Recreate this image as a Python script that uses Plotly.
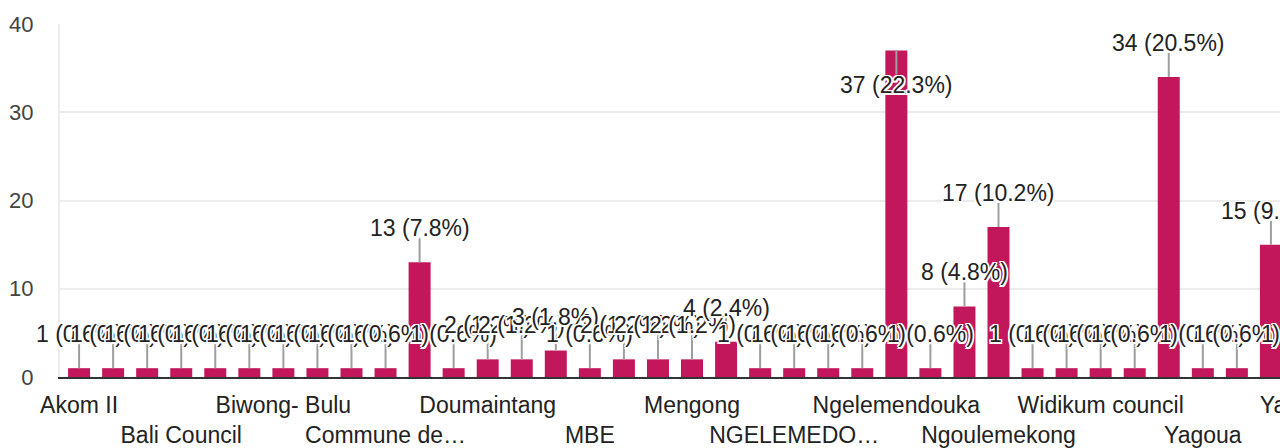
import plotly.graph_objects as go

# ---- data ----
labels = [
    "Akom II", "", "", "Bali Council", "", "", "Biwong- Bulu", "", "", "Commune de…",
    "", "", "Doumaintang", "", "", "MBE", "", "", "Mengong", "",
    "", "NGELEMEDO…", "", "", "Ngelemendouka", "", "", "Ngoulemekong", "", "",
    "Widikum council", "", "", "Yagoua", "", "", "Yaoundé",
]
counts = [
    1, 1, 1, 1, 1, 1, 1, 1, 1, 1,
    13, 1, 2, 2, 3, 1, 2, 2, 2, 4,
    1, 1, 1, 1, 37, 1, 8, 17, 1, 1,
    1, 1, 34, 1, 1, 15, 1,
]
total_responses = 166
y_ticks = [0, 10, 20, 30, 40]

# ---- style ----
BAR = "#C2185B"
FONT = "Arial, Liberation Sans, sans-serif"
FS = 23
W, H = 1342, 448
ML, MR, MT, MB = 60, 20, 24, 71
Y_MAX = 40
LABEL_SHIFT = 34
LEADER = 24

plot_h = H - MT - MB
ppu = plot_h / Y_MAX

idx = list(range(len(counts)))
fig = go.Figure(go.Bar(x=idx, y=counts, marker_color=BAR, marker_line_width=0))

halo = ", ".join(f"{dx}px {dy}px 0 #fff" for dx in (-1.5, 0, 1.5) for dy in (-1.5, 0, 1.5) if (dx, dy) != (0, 0))

shapes, annos = [], []
for i, v in enumerate(counts):
    flip = v * ppu + LABEL_SHIFT + 12 > plot_h
    sgn = -1 if flip else 1
    shapes.append(dict(type="line", xref="x", yref="y", x0=i, x1=i,
                       ysizemode="pixel", yanchor=v, y0=0, y1=sgn * LEADER,
                       line=dict(color="#9e9e9e", width=2), layer="above"))
    annos.append(dict(x=i, y=v, xref="x", yref="y", showarrow=False,
                      yshift=sgn * (LABEL_SHIFT + (1 if flip else 0)),
                      text=f"{v} ({v / total_responses * 100:.1f}%)",
                      xanchor="center", yanchor="middle",
                      font=dict(family=FONT, size=FS, color="#222", shadow=halo)))

shown = [i for i, l in enumerate(labels) if l]
ticktext = [("<br>" if k % 2 else "") + labels[i] for k, i in enumerate(shown)]

fig.update_layout(
    width=W, height=H, margin=dict(l=ML, r=MR, t=MT, b=MB, pad=0, autoexpand=False),
    paper_bgcolor="white", plot_bgcolor="white",
    bargap=0.354, showlegend=False,
    shapes=shapes, annotations=annos,
    font=dict(family=FONT, size=FS, color="#222"),
)
fig.update_xaxes(range=[-0.56, len(counts) - 0.5], tickmode="array", tickvals=shown,
                 ticktext=ticktext, showgrid=False, zeroline=False, tickangle=0,
                 automargin=False, ticklabeloverflow="allow",
                 showline=True, linecolor="#333", linewidth=2,
                 ticks="outside", ticklen=6, tickcolor="rgba(0,0,0,0)",
                 tickfont=dict(family=FONT, size=FS, color="#222"))
fig.update_yaxes(range=[0, Y_MAX], tickmode="array", tickvals=y_ticks,
                 showgrid=True, gridcolor="#ececec", gridwidth=2, zeroline=False,
                 automargin=False,
                 showline=True, linecolor="#ececec", linewidth=2,
                 ticks="outside", ticklen=20, tickcolor="rgba(0,0,0,0)",
                 tickfont=dict(family=FONT, size=22, color="#444"))

post = ("document.body.style.margin='0';document.body.style.overflow='hidden';"
        "document.documentElement.style.overflow='hidden';")
fig.write_html("out.html", post_script=post, config={"displayModeBar": False})
